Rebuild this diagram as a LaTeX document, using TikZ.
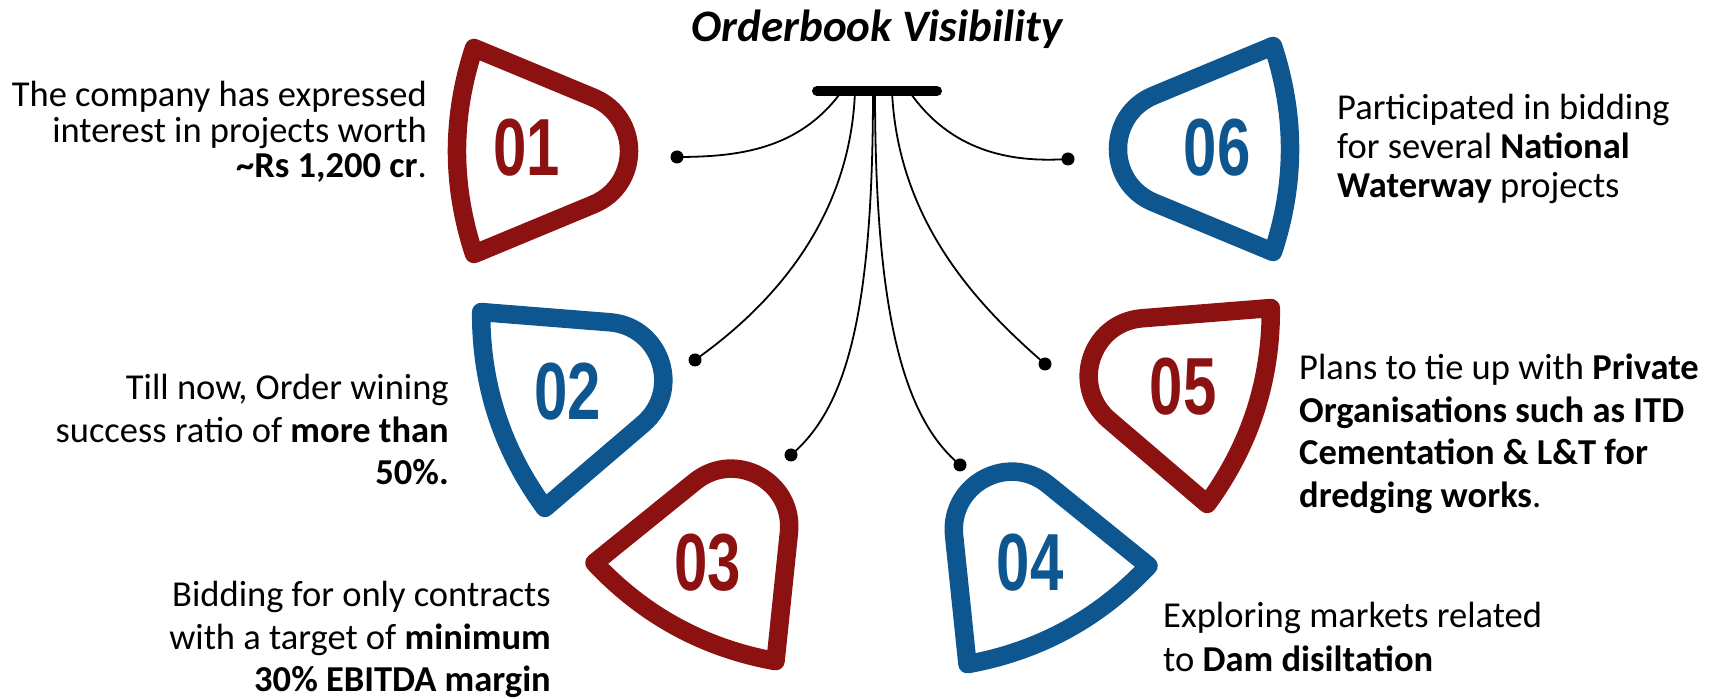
\documentclass[tikz,border=0pt]{standalone}
\usepackage{fontspec}
\usepackage{graphicx}
\setmainfont{Carlito}
\newfontfamily\numfont{Liberation Sans}
\definecolor{pickred}{RGB}{140,17,17}
\definecolor{pickblue}{RGB}{14,86,144}
\tikzset{
  pick/.pic={\draw[line width=18.5pt,line join=round]
      (0,103) .. controls (-22.7,34) and (-22.7,-34) .. (0,-103)
      -- (119.7,-53.3) .. controls (166.8,-33.3) and (166.8,33.3) .. (119.7,53.3) -- cycle;},
  num/.style={font=\numfont\bfseries\fontsize{81}{81}\selectfont, inner sep=0},
  body/.style={inner sep=0},
  dot/.style={circle, fill=black, inner sep=0, minimum size=13pt},
  conn/.style={line width=1.8pt},
}
\begin{document}
\begin{tikzpicture}[x=1pt,y=1pt]
\useasboundingbox (0,0) rectangle (1717,699);
% shapes
\pic[color=pickred] at (474,548) {pick};
\pic[color=pickblue, rotate=18] at (513,289) {pick};
\pic[color=pickred, rotate=61.5] at (685,87) {pick};
\pic[color=pickblue, rotate=118.5] at (1058,84) {pick};
\pic[color=pickred, rotate=162] at (1239,293) {pick};
\pic[color=pickblue, rotate=180] at (1273,550) {pick};
% numbers
\node[num, text=pickred] (n1) at (527,551) {\scalebox{0.74}[1]{01}};
\node[num, text=pickblue] (n2) at (568,307) {\scalebox{0.74}[1]{02}};
\node[num, text=pickred] (n3) at (708,136) {\scalebox{0.74}[1]{03}};
\node[num, text=pickblue] (n4) at (1030,136) {\scalebox{0.74}[1]{04}};
\node[num, text=pickred] (n5) at (1183,312) {\scalebox{0.74}[1]{05}};
\node[num, text=pickblue] (n6) at (1217,551) {\scalebox{0.74}[1]{06}};
% title and bar
\node[font=\bfseries\itshape\fontsize{45}{45}\selectfont, anchor=base, inner sep=0] (title) at (877,657) {Orderbook Visibility};
\coordinate (bl) at (817,608);
\coordinate (br) at (937,608);
\draw[line width=10pt, line cap=round] (bl) -- (br);
\coordinate (b1) at (842,608);
\coordinate (b2) at (855,608);
\coordinate (b3) at (873,608);
\coordinate (b4) at (875,608);
\coordinate (b5) at (892,608);
\coordinate (b6) at (909,608);
% dots
\node[dot] (d1) at (677,542) {};
\node[dot] (d2) at (695,339) {};
\node[dot] (d3) at (791,244) {};
\node[dot] (d4) at (960,234) {};
\node[dot] (d5) at (1045,335) {};
\node[dot] (d6) at (1068,540) {};
% connectors
\draw[conn] (b1) .. controls (800,550) and (740,542) .. (d1.center);
\draw[conn] (b2) .. controls (850,470) and (760,385) .. (d2.center);
\draw[conn] (b3) .. controls (873,380) and (845,290) .. (d3.center);
\draw[conn] (b4) .. controls (875,380) and (905,280) .. (d4.center);
\draw[conn] (b5) .. controls (898,470) and (988,385) .. (d5.center);
\draw[conn] (b6) .. controls (950,548) and (1010,536) .. (d6.center);
% texts (base anchor = baseline of the last line)
\node[body, font=\fontsize{36.5}{35.5}\selectfont, anchor=base east, align=right] (t1) at (427,521)
  {The company has expressed\\interest in projects worth\\\textbf{\textasciitilde Rs 1,200 cr}.};
\node[body, font=\fontsize{36.5}{42.5}\selectfont, anchor=base east, align=right] (t2) at (449,214)
  {Till now, Order wining\\success ratio of \textbf{more than}\\\textbf{50\%.}};
\node[body, font=\fontsize{36.5}{42.5}\selectfont, anchor=base east, align=right] (t3) at (551,7)
  {Bidding for only contracts\\with a target of \textbf{minimum}\\\textbf{30\% EBITDA margin}};
\node[body, font=\fontsize{36.5}{44}\selectfont, anchor=base west, align=left] (t4) at (1163,27)
  {Exploring markets related\\to \textbf{Dam disiltation}};
\node[body, font=\fontsize{36.5}{42.5}\selectfont, anchor=base west, align=left] (t5) at (1299,191.5)
  {Plans to tie up with \textbf{Private}\\\textbf{Organisations such as ITD}\\\textbf{Cementation \& L\&T for}\\\textbf{dredging works}.};
\node[body, font=\fontsize{36.5}{39}\selectfont, anchor=base west, align=left] (t6) at (1337,501)
  {Participated in bidding\\for several \textbf{National}\\\textbf{Waterway} projects};
\end{tikzpicture}
\end{document}
